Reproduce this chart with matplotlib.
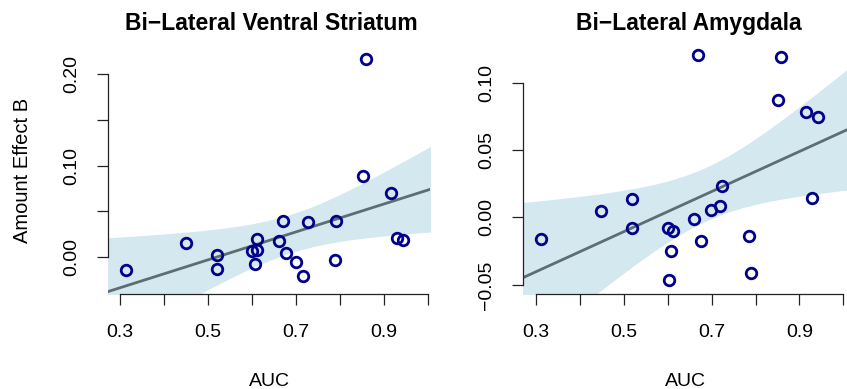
import numpy as np
import matplotlib
matplotlib.use("Agg")
import matplotlib.pyplot as plt

# values
vs_auc = [0.313, 0.450, 0.520, 0.520, 0.601, 0.611, 0.611, 0.606, 0.661, 0.671, 0.677,
          0.701, 0.727, 0.717, 0.790, 0.788, 0.853, 0.860, 0.917, 0.929, 0.943]
vs_effect = [-0.0142, 0.0157, 0.0022, -0.0135, 0.0069, 0.0077, 0.0197, -0.0080, 0.0175, 0.0397, 0.0044,
             -0.0051, 0.0383, -0.0204, 0.0393, -0.0036, 0.0882, 0.2167, 0.0696, 0.0208, 0.0189]

amy_auc = [0.311, 0.449, 0.519, 0.519, 0.600, 0.611, 0.608, 0.604, 0.660, 0.670, 0.676,
           0.699, 0.718, 0.724, 0.786, 0.789, 0.851, 0.859, 0.915, 0.929, 0.942]
amy_effect = [-0.0156, 0.0045, 0.0139, -0.0077, -0.0077, -0.0099, -0.0248, -0.0466, -0.0010, 0.1201, -0.0171,
              0.0059, 0.0087, 0.0230, -0.0134, -0.0411, 0.0871, 0.1191, 0.0785, 0.0141, 0.0745]

titles = ["Bi\u2212Lateral Ventral Striatum", "Bi\u2212Lateral Amygdala"]
x_ticks = [0.3, 0.4, 0.5, 0.6, 0.7, 0.8, 0.9, 1.0]
x_ticklabels = ["0.3", "", "0.5", "", "0.7", "", "0.9", ""]
vs_yticks = [0.00, 0.05, 0.10, 0.15, 0.20]
vs_yticklabels = ["0.00", "", "0.10", "", "0.20"]
amy_yticks = [-0.05, 0.00, 0.05, 0.10]
amy_yticklabels = ["\u22120.05", "0.00", "0.05", "0.10"]

T_CRIT = 2.093  # t(0.975, df=19)

BAND = "#d4e9ef"
LINE = "#5d6e73"
POINT = "#00008b"
SANS = ["Liberation Sans", "DejaVu Sans"]
NARROW = ["Liberation Sans Narrow", "Liberation Sans", "DejaVu Sans"]


def draw_panel(ax, x, y, xlim, ylim, yticks, yticklabels, title, fig_title_x):
    x = np.asarray(x)
    y = np.asarray(y)
    n = len(x)
    slope, intercept = np.polyfit(x, y, 1)
    resid = y - (slope * x + intercept)
    s = np.sqrt(np.sum(resid ** 2) / (n - 2))
    sxx = np.sum((x - x.mean()) ** 2)
    grid = np.linspace(xlim[0] - 0.05, xlim[1] + 0.05, 200)
    fit = slope * grid + intercept
    se = s * np.sqrt(1.0 / n + (grid - x.mean()) ** 2 / sxx)

    ax.fill_between(grid, fit - T_CRIT * se, fit + T_CRIT * se, color=BAND, lw=0, zorder=1)
    ax.plot(grid, fit, color=LINE, lw=2.0, zorder=2)
    ax.plot(x, y, "o", ms=7.6, mfc="none", mec=POINT, mew=2.0, zorder=3)

    ax.set_xlim(xlim)
    ax.set_ylim(ylim)
    ax.set_xticks(x_ticks)
    ax.set_xticklabels(x_ticklabels, family=NARROW, fontsize=14)
    ax.set_yticks(yticks)
    ax.set_yticklabels(yticklabels, family=SANS, fontsize=14, rotation=90, va="center")
    ax.tick_params(axis="x", length=8, width=0.9, pad=13.5, color="#222222")
    ax.tick_params(axis="y", length=8, width=0.9, pad=12, color="#222222")
    for side in ("top", "right"):
        ax.spines[side].set_visible(False)
    ax.spines["left"].set_bounds(yticks[0], yticks[-1])
    ax.spines["bottom"].set_bounds(x_ticks[0], x_ticks[-1])
    for side in ("left", "bottom"):
        ax.spines[side].set_linewidth(0.9)
        ax.spines[side].set_color("#222222")

    fig.text(fig_title_x, 0.923, title, ha="center", va="baseline",
             fontsize=16.5, fontweight="bold", family=SANS)


fig = plt.figure(figsize=(8.47, 3.89), dpi=100)
H = 389.0
W = 847.0
bottom = (H - 294) / H
height = (294 - 48) / H

ax1 = fig.add_axes([108 / W, bottom, 322 / W, height])
ax2 = fig.add_axes([523 / W, bottom, 324 / W, height])

draw_panel(ax1, vs_auc, vs_effect, (0.2727, 1.0045), (-0.0404, 0.2284),
           vs_yticks, vs_yticklabels, titles[0], 271 / W)
draw_panel(ax2, amy_auc, amy_effect, (0.2704, 1.0084), (-0.0567, 0.1256),
           amy_yticks, amy_yticklabels, titles[1], 689 / W)

fig.text(269 / W, (H - 381) / H, "AUC", ha="center", va="center", fontsize=14, family=NARROW)
fig.text(685 / W, (H - 381) / H, "AUC", ha="center", va="center", fontsize=14, family=NARROW)
fig.text(22 / W, (H - 170) / H, "Amount Effect B", ha="center", va="center",
         rotation=90, fontsize=14.5, family=SANS)

fig.savefig("out.png", dpi=100)
